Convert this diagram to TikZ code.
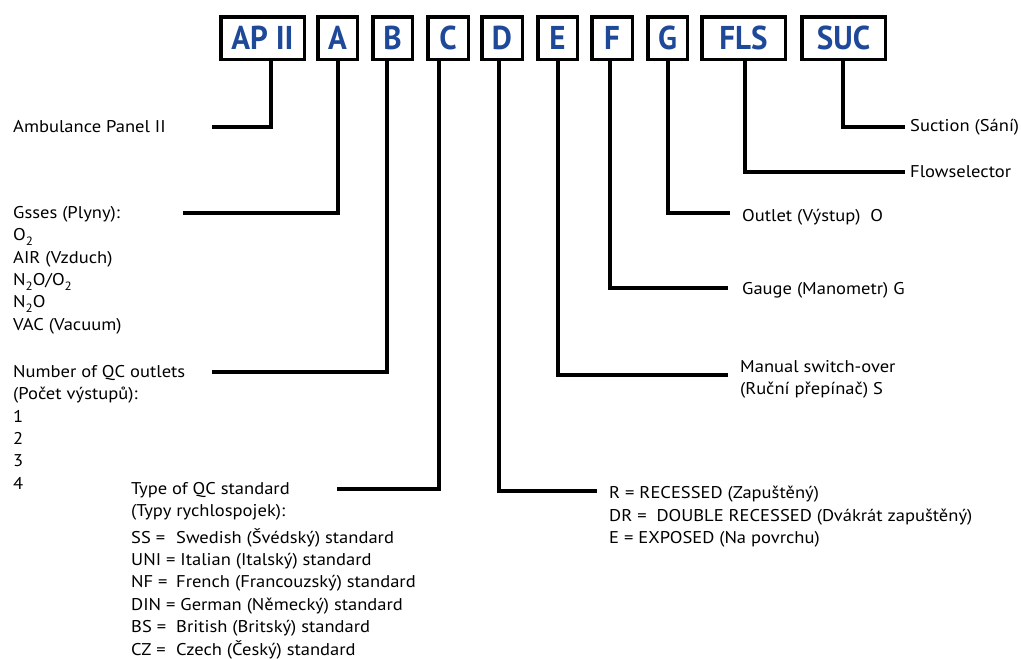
\documentclass[tikz,border=0pt]{standalone}
\usepackage{fontspec}
\setmainfont{PT Sans}[FakeStretch=1.09]
\newfontfamily\boxfont{PT Sans}[FakeStretch=0.94]
\definecolor{codeblue}{RGB}{30,72,152}
\newcommand\lowsub[1]{\raisebox{-0.28em}{\fontsize{12}{12}\selectfont #1}}
\newcommand\codecol[1]{\makebox[45pt][l]{#1}}
\begin{document}
\begin{tikzpicture}[x=1pt,y=-1pt,
  codebox/.style={draw=black,line width=3.5pt,inner sep=0pt,minimum height=42.5pt,
    text=codeblue,font=\boxfont\bfseries\fontsize{33}{33}\selectfont},
  conn/.style={line width=3.5pt},
  lbl/.style={inner sep=0pt,align=left,font=\fontsize{17}{22.4}\selectfont}]
\useasboundingbox (0,0) rectangle (1021,659);

% code boxes
\node[codebox,minimum width=83.5pt] (apii) at (262.5,38) {AP II};
\node[codebox,minimum width=39.5pt] (a) at (337.5,38) {A};
\node[codebox,minimum width=39.5pt] (b) at (392.5,38) {B};
\node[codebox,minimum width=40.5pt] (c) at (448,38) {C};
\node[codebox,minimum width=40.5pt] (d) at (502,38) {D};
\node[codebox,minimum width=39.5pt] (e) at (557.5,38) {E};
\node[codebox,minimum width=40.5pt] (f) at (612,38) {F};
\node[codebox,minimum width=39.5pt] (g) at (667.5,38) {G};
\node[codebox,minimum width=83.5pt] (fls) at (743.5,38) {FLS};
\node[codebox,minimum width=83.5pt] (suc) at (843.5,38) {SUC};

% connector ends
\coordinate (apEnd) at (212,127);
\coordinate (aEnd) at (183,213);
\coordinate (bEnd) at (212,372);
\coordinate (cEnd) at (337,489);
\coordinate (dEnd) at (597,491);
\coordinate (eEnd) at (728,375);
\coordinate (fEnd) at (728,288);
\coordinate (gEnd) at (730,213);
\coordinate (flsEnd) at (905,172);
\coordinate (sucEnd) at (905,127);

\draw[conn] ([xshift=8.5pt]apii.south) |- (apEnd);
\draw[conn] ([xshift=0.5pt]a.south) |- (aEnd);
\draw[conn] ([xshift=-5.5pt]b.south) |- (bEnd);
\draw[conn] ([xshift=-9pt]c.south) |- (cEnd);
\draw[conn] ([xshift=-3pt]d.south) |- (dEnd);
\draw[conn] ([xshift=0.5pt]e.south) |- (eEnd);
\draw[conn] ([xshift=-2pt]f.south) |- (fEnd);
\draw[conn] ([xshift=0.5pt]g.south) |- (gEnd);
\draw[conn] ([xshift=1.5pt]fls.south) |- (flsEnd);
\draw[conn] ([xshift=-0.5pt]suc.south) |- (sucEnd);

% labels
\node[lbl,anchor=west] (apLbl) at (13,127) {Ambulance Panel II};
\node[lbl,anchor=north west] (aLbl) at (13,206) {Gsses (Plyny):\\
O\lowsub{2}\\
AIR (Vzduch)\\
N\lowsub{2}O/O\lowsub{2}\\
N\lowsub{2}O\\
VAC (Vacuum)};
\node[lbl,anchor=north west] (bLbl) at (13,365) {Number of QC outlets\\
(Počet výstupů):\\
1\\
2\\
3\\
4};
\node[lbl,anchor=north west] (cLbl) at (131,482) {Type of QC standard\\
(Typy rychlospojek):\\[4pt]
\codecol{SS =}Swedish (Švédský) standard\\
UNI = Italian (Italský) standard\\
\codecol{NF =}French (Francouzský) standard\\
DIN = German (Německý) standard\\
\codecol{BS =}British (Britský) standard\\
\codecol{CZ =}Czech (Český) standard};
\node[lbl,anchor=north west] (dLbl) at (609,486) {R = RECESSED (Zapuštěný)\\
DR =\ \ DOUBLE RECESSED (Dvákrát zapuštěný)\\
E = EXPOSED (Na povrchu)};
\node[lbl,anchor=north west] (eLbl) at (740,360) {Manual switch-over\\
(Ruční přepínač) S};
\node[lbl,anchor=west] (fLbl) at (742,290) {Gauge (Manometr) G};
\node[lbl,anchor=west] (gLbl) at (742,217) {Outlet (Výstup)\ \ O};
\node[lbl,anchor=west] (flsLbl) at (910,172) {Flowselector};
\node[lbl,anchor=west] (sucLbl) at (910,127) {Suction (Sání)};
\end{tikzpicture}
\end{document}
